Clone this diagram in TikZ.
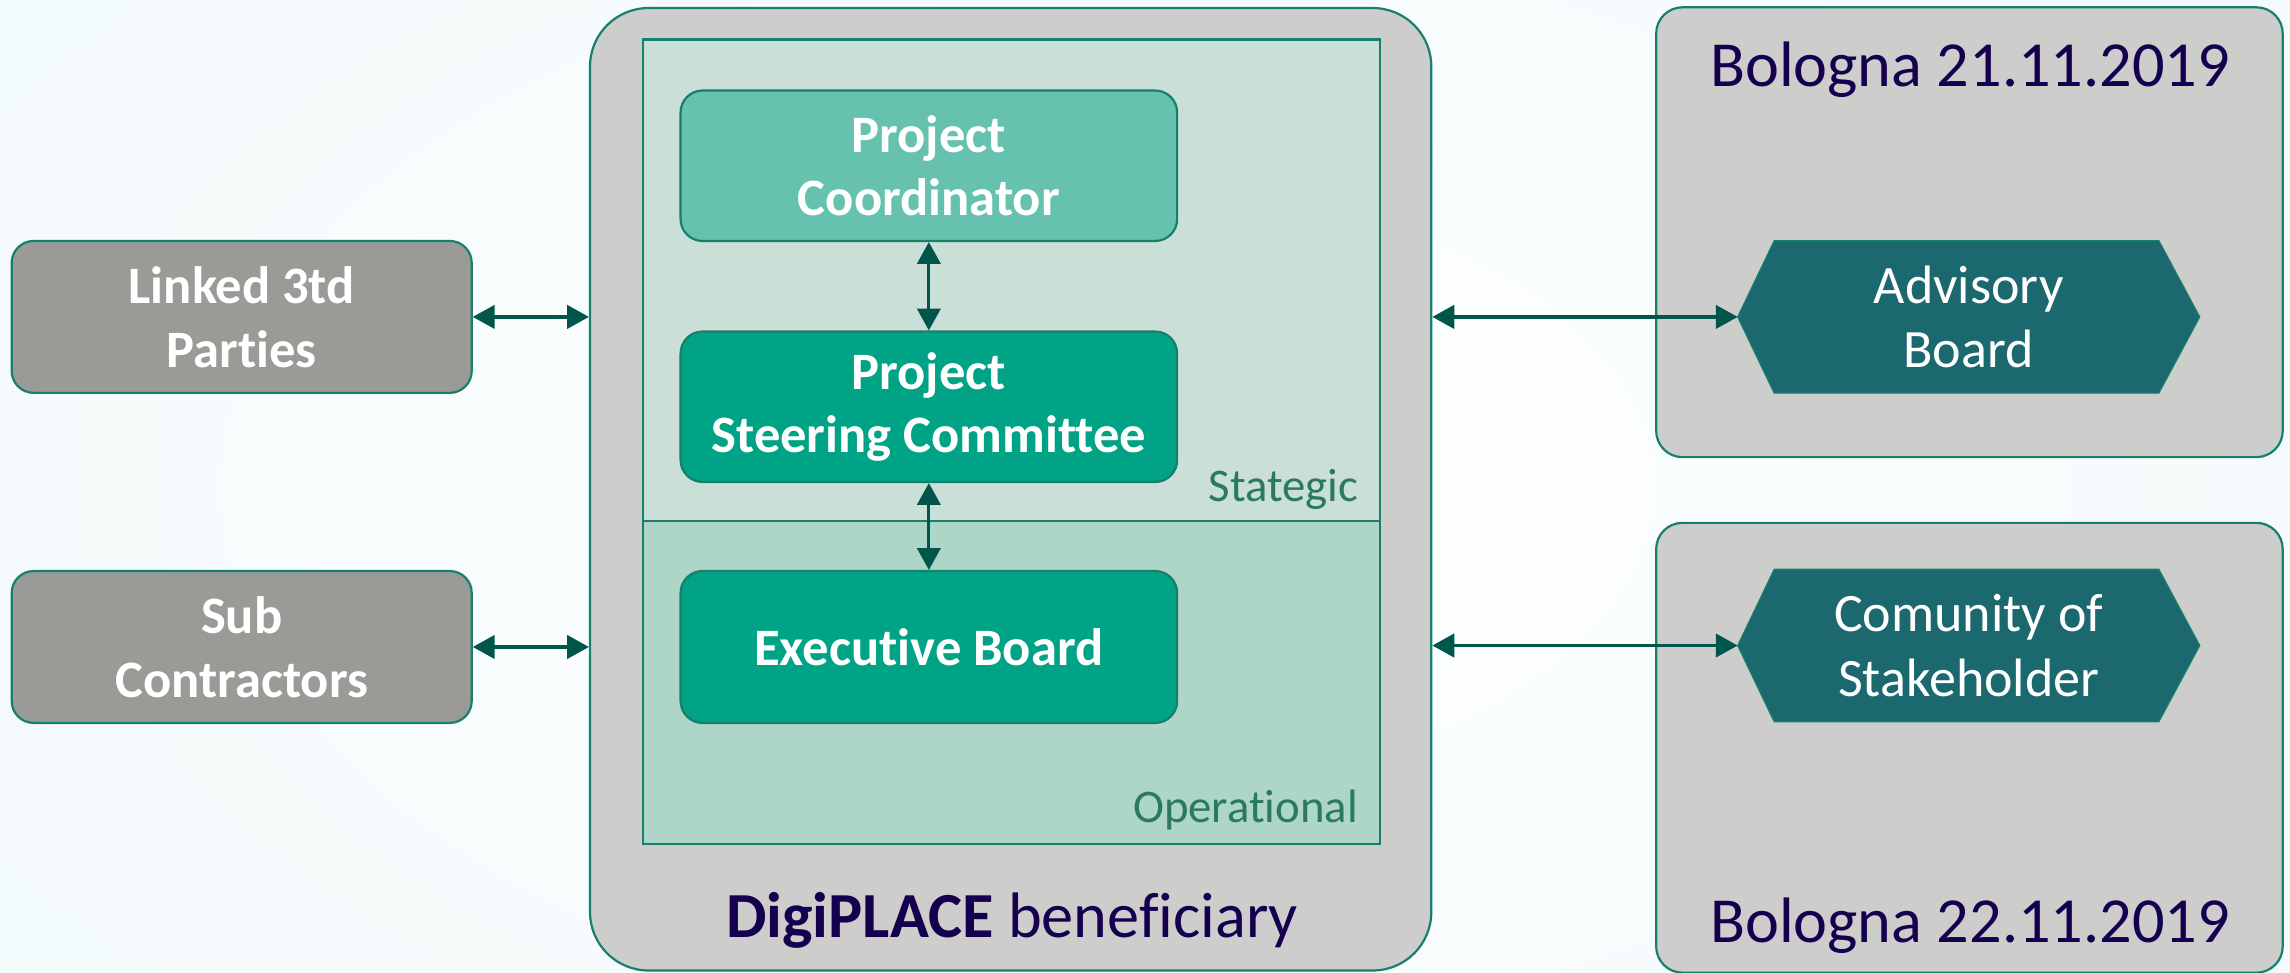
\documentclass[tikz,border=0pt]{standalone}
\usepackage{fontspec}
\setmainfont{Carlito}[Ligatures=NoCommon]
\usetikzlibrary{arrows.meta,calc}
\definecolor{bgc}{HTML}{F1F9FB}
\definecolor{graybox}{HTML}{9A9B97}
\definecolor{panel}{HTML}{CDCDCB}
\definecolor{bord}{HTML}{16806C}
\definecolor{stratc}{HTML}{C9DFD8}
\definecolor{operc}{HTML}{ADD5C8}
\definecolor{pcc}{HTML}{66C2AF}
\definecolor{darkg}{HTML}{00A386}
\definecolor{hexc}{HTML}{1B686E}
\definecolor{arrc}{HTML}{00564A}
\definecolor{lblc}{HTML}{2A7A5C}
\definecolor{navy}{HTML}{14004E}
\tikzset{
  box/.style={draw=bord, line width=1.5pt, rounded corners=15pt, inner sep=0pt, align=center, text=white},
  sidebox/.style={box, fill=graybox, minimum width=315pt, minimum height=104pt, font=\bfseries\fontsize{36}{44}\selectfont},
  orgbox/.style={box, minimum width=340pt, minimum height=103pt, font=\bfseries\fontsize{36}{43}\selectfont},
  panelbox/.style={draw=bord, line width=1.5pt, fill=panel, inner sep=0pt},
  layer/.style={draw=bord, line width=1.5pt, inner sep=0pt},
  hexlbl/.style={inner sep=0pt, minimum width=316pt, minimum height=104pt, align=center, text=white, font=\fontsize{37}{44}\selectfont},
  hexfill/.style={fill=hexc, draw=bord, line width=0.8pt},
  biarrow/.style={draw=arrc, line width=2.2pt, {Triangle[length=15pt,width=16pt]}-{Triangle[length=15pt,width=16pt]}},
  layerlbl/.style={anchor=base east, inner sep=0pt, text=lblc, font=\fontsize{32}{36}\selectfont},
  datelbl/.style={anchor=base, inner sep=0pt, text=navy, font=\fontsize{44}{50}\selectfont}
}
\begin{document}
\begin{tikzpicture}[x=1pt,y=-1pt]
\useasboundingbox (0,0) rectangle (1568,666);
\fill[inner color=white, outer color=bgc] (-300,-300) rectangle (1868,966);
% left boxes
\node[sidebox] (linked) at (165.5,217) {Linked 3td\\Parties};
\node[sidebox] (sub) at (165.5,443) {Sub\\Contractors};
% main box
\node[panelbox, rounded corners=40pt, minimum width=576pt, minimum height=659pt] (main) at (692,335) {};
\node[layer, fill=stratc, minimum width=505pt, minimum height=330pt] (strat) at (692.5,192) {};
\node[layer, fill=operc, minimum width=505pt, minimum height=221pt] (oper) at (692.5,467.5) {};
\node[layerlbl] (stratlbl) at (930,343.5) {Stategic};
\node[layerlbl] (operlbl) at (930,563) {Operational};
\node[orgbox, fill=pcc] (pc) at (636,113.5) {Project\\Coordinator};
\node[orgbox, fill=darkg] (psc) at (636,278.5) {Project\\Steering Committee};
\node[orgbox, fill=darkg, minimum height=104pt] (eb) at (636,443) {Executive Board};
\node[anchor=base, inner sep=0pt, text=navy, font=\fontsize{44}{50}\selectfont] (benef) at (693,642) {\textbf{DigiPLACE} beneficiary};
% right boxes
\node[panelbox, rounded corners=18pt, minimum width=429pt, minimum height=308pt] (rb1) at (1348.5,159) {};
\node[panelbox, rounded corners=18pt, minimum width=429pt, minimum height=308pt] (rb2) at (1348.5,512) {};
\node[datelbl] (d1) at (1349,59) {Bologna 21.11.2019};
\node[datelbl] (d2) at (1349,645) {Bologna 22.11.2019};
% hexagons
\node[hexlbl] (adv) at (1348,217) {};
\node[hexlbl] (com) at (1348,442) {};
\foreach \h in {adv,com}{
  \filldraw[hexfill] (\h.west) -- ($(\h.north west)+(25,0)$) -- ($(\h.north east)+(-28,0)$) -- (\h.east) -- ($(\h.south east)+(-28,0)$) -- ($(\h.south west)+(25,0)$) -- cycle;
}
\node[hexlbl] (advt) at (adv) {Advisory\\Board};
\node[hexlbl] (comt) at (com) {Comunity of\\Stakeholder};
% arrows
\draw[biarrow] (linked.east) -- (linked.east -| main.west);
\draw[biarrow] (sub.east) -- (sub.east -| main.west);
\draw[biarrow] (pc.south) -- (psc.north);
\draw[biarrow] (psc.south) -- (eb.north);
\draw[biarrow] (adv.west -| main.east) -- (adv.west);
\draw[biarrow] (com.west -| main.east) -- (com.west);
\end{tikzpicture}
\end{document}
